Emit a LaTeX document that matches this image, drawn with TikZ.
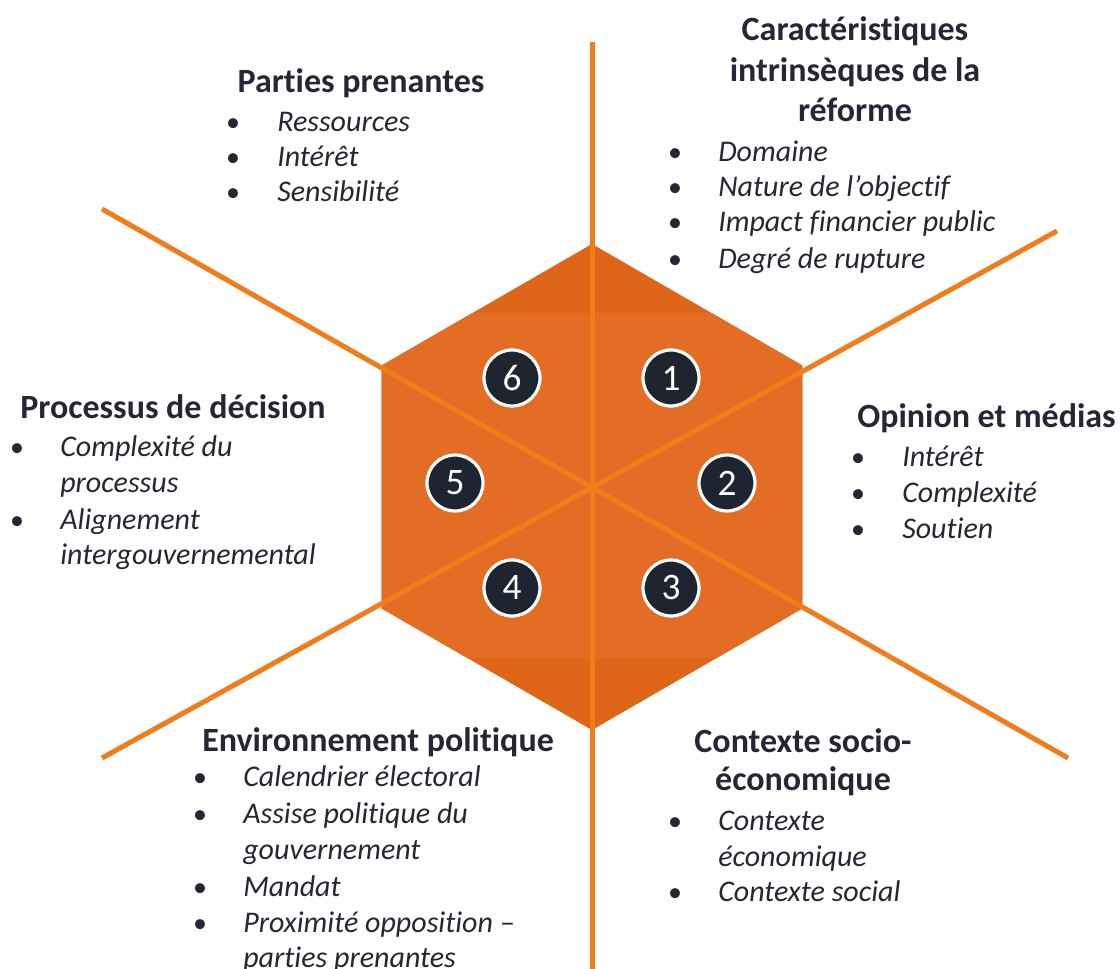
\documentclass[tikz,border=0pt]{standalone}
\usepackage{fontspec}
\setmainfont{Carlito}[RawFeature={-liga;-clig;-dlig}]
\definecolor{hexdark}{HTML}{DF6518}
\definecolor{hexmid}{HTML}{E46D26}
\definecolor{rayorange}{HTML}{F07D1A}
\definecolor{navy}{HTML}{1E2430}
\definecolor{txt}{HTML}{252834}
\tikzset{
  ttl/.style={inner sep=0pt, text=txt, font=\fontsize{25.5}{30.75}\selectfont\bfseries},
  itm/.style={inner sep=0pt, anchor=base west, text=txt, font=\fontsize{22.5}{27}\selectfont\itshape},
  bul/.style={inner sep=0pt, anchor=base, text=txt, font=\fontsize{21}{27}\selectfont},
  ray/.style={draw=rayorange, line width=3.75pt},
  num/.style={circle, draw=white, line width=2.4pt, fill=navy, minimum size=56*0.75pt, inner sep=0pt, text=white, font=\fontsize{28}{28}\selectfont}
}
\newcommand\bitem[5]{\node[bul] (#1b) at (#2,#4) {•}; \node[itm] (#1) at (#3,#4) {#5};}
\newcommand\citem[4]{\node[itm] (#1) at (#2,#3) {#4};}
\begin{document}
\begin{tikzpicture}[x=0.75pt,y=-0.75pt]
\useasboundingbox (0,0) rectangle (1120,969);
\clip (0,0) rectangle (1120,969);
\fill[white] (0,0) rectangle (1120,969);
% hexagon
\coordinate (h1) at (592,244);
\coordinate (h2) at (802.4,365.5);
\coordinate (h3) at (802.4,608.5);
\coordinate (h4) at (592,730);
\coordinate (h5) at (381.6,608.5);
\coordinate (h6) at (381.6,365.5);
\fill[hexdark] (h1) -- (h2) -- (h3) -- (h4) -- (h5) -- (h6) -- cycle;
\begin{scope}
\clip (h1) -- (h2) -- (h3) -- (h4) -- (h5) -- (h6) -- cycle;
\fill[hexmid] (370,313) rectangle (815,658);
\end{scope}
% rays
\coordinate (c) at (592,487);
\coordinate (vt) at (592,42);
\coordinate (vb) at (592,980);
\coordinate (lt) at (102,209);
\coordinate (rb) at (1068,758);
\coordinate (lb) at (102,758);
\coordinate (rt) at (1057,231);
\draw[ray] (vt) -- (vb);
\draw[ray] (lt) -- (rb);
\draw[ray] (lb) -- (rt);
% numbers
\node[num] (n1) at (671,378) {1};
\node[num] (n2) at (727,483) {2};
\node[num] (n3) at (671,588) {3};
\node[num] (n4) at (512,588) {4};
\node[num] (n5) at (455,483) {5};
\node[num] (n6) at (512,378) {6};
% Parties prenantes
\node[ttl, anchor=base] (t6) at (361,93) {Parties prenantes};
\bitem{p1}{233}{277}{132}{Ressources}
\bitem{p2}{233}{277}{167}{Intérêt}
\bitem{p3}{233}{277}{202}{Sensibilité}
% Caractéristiques
\node[ttl, anchor=base] (t1a) at (855,41) {Caractéristiques};
\node[ttl, anchor=base] (t1b) at (855,82) {intrinsèques de la};
\node[ttl, anchor=base] (t1c) at (855,122) {réforme};
\bitem{c1}{675}{718}{162}{Domaine}
\bitem{c2}{675}{718}{197}{Nature de l’objectif}
\bitem{c3}{675}{718}{232}{Impact financier public}
\bitem{c4}{675}{718}{269}{Degré de rupture}
% Opinion et médias
\node[ttl, anchor=base west] (t2) at (857,428) {Opinion et médias};
\bitem{o1}{858}{902}{466}{Intérêt}
\bitem{o2}{858}{902}{502}{Complexité}
\bitem{o3}{858}{902}{538}{Soutien}
% Processus de décision
\node[ttl, anchor=base west] (t5) at (20,419) {Processus de décision};
\bitem{d1}{17}{60}{456}{Complexité du}
\citem{d1b}{60}{492}{processus}
\bitem{d2}{17}{60}{529}{Alignement}
\citem{d2b}{60}{564}{intergouvernemental}
% Environnement politique
\node[ttl, anchor=base west] (t4) at (202,751) {Environnement politique};
\bitem{e1}{200}{243}{786}{Calendrier électoral}
\bitem{e2}{200}{243}{823}{Assise politique du}
\citem{e2b}{243}{859}{gouvernement}
\bitem{e3}{200}{243}{896}{Mandat}
\bitem{e4}{200}{243}{932}{Proximité opposition –}
\citem{e4b}{243}{967}{parties prenantes}
% Contexte socio-economique
\node[ttl, anchor=base] (t3a) at (803,752) {Contexte socio-};
\node[ttl, anchor=base] (t3b) at (803,790) {économique};
\bitem{s1}{675}{718}{830}{Contexte}
\citem{s1b}{718}{866}{économique}
\bitem{s2}{675}{718}{901}{Contexte social}
\end{tikzpicture}
\end{document}
